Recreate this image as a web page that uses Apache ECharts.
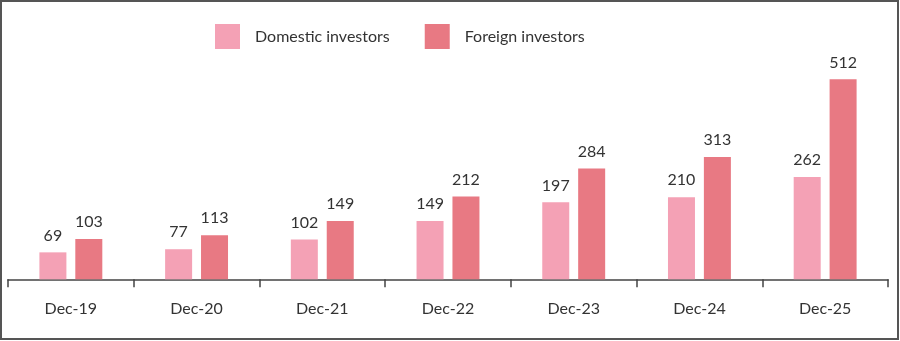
<!DOCTYPE html>
<html><head><meta charset="utf-8">
<script src="https://cdn.jsdelivr.net/npm/echarts@6/dist/echarts.min.js"></script>
<style>html,body{margin:0;padding:0;background:#fff}#c{width:900px;height:341px}</style>
</head><body><div id="c"></div>
<script>
const categories = ['Dec-19','Dec-20','Dec-21','Dec-22','Dec-23','Dec-24','Dec-25'];
const domestic = [69, 77, 102, 149, 197, 210, 262];
const foreign = [103, 113, 149, 212, 284, 313, 512];
const seriesNames = ['Domestic investors', 'Foreign investors'];
const FONT = 'Lato';
const chart = echarts.init(document.getElementById('c'), null, {renderer:'canvas'});
const lbl = {show:true, position:'top', distance:9, color:'#333', fontSize:16, fontFamily:FONT};
chart.setOption({
  animation:false,
  graphic:[{type:'rect', shape:{x:1,y:1,width:897,height:338}, style:{fill:'none', stroke:'#555', lineWidth:2}, z:100}],
  legend:{top:24, left:215, padding:0, itemWidth:25, itemHeight:25, itemGap:35,
    textStyle:{fontSize:16, color:'#333', fontFamily:FONT, padding:[0,0,0,10]},
    data:seriesNames, icon:'rect'},
  grid:{left:8, right:12, top:45, bottom:61.7, containLabel:false},
  xAxis:{type:'category', data:categories,
    axisLine:{lineStyle:{color:'#444', width:1.5}},
    axisTick:{show:true, length:8, lineStyle:{color:'#444', width:1.5}},
    axisLabel:{color:'#333', fontSize:16, fontFamily:FONT, margin:22}},
  yAxis:{type:'value', min:0, max:600, show:false, splitLine:{show:false}},
  series:[
    {name:seriesNames[0], type:'bar', data:domestic, barWidth:27, barGap:'33%',
      itemStyle:{color:'#F4A1B5'}, label:lbl},
    {name:seriesNames[1], type:'bar', data:foreign, barWidth:27,
      itemStyle:{color:'#E87983'}, label:lbl}
  ]
});
</script></body></html>
